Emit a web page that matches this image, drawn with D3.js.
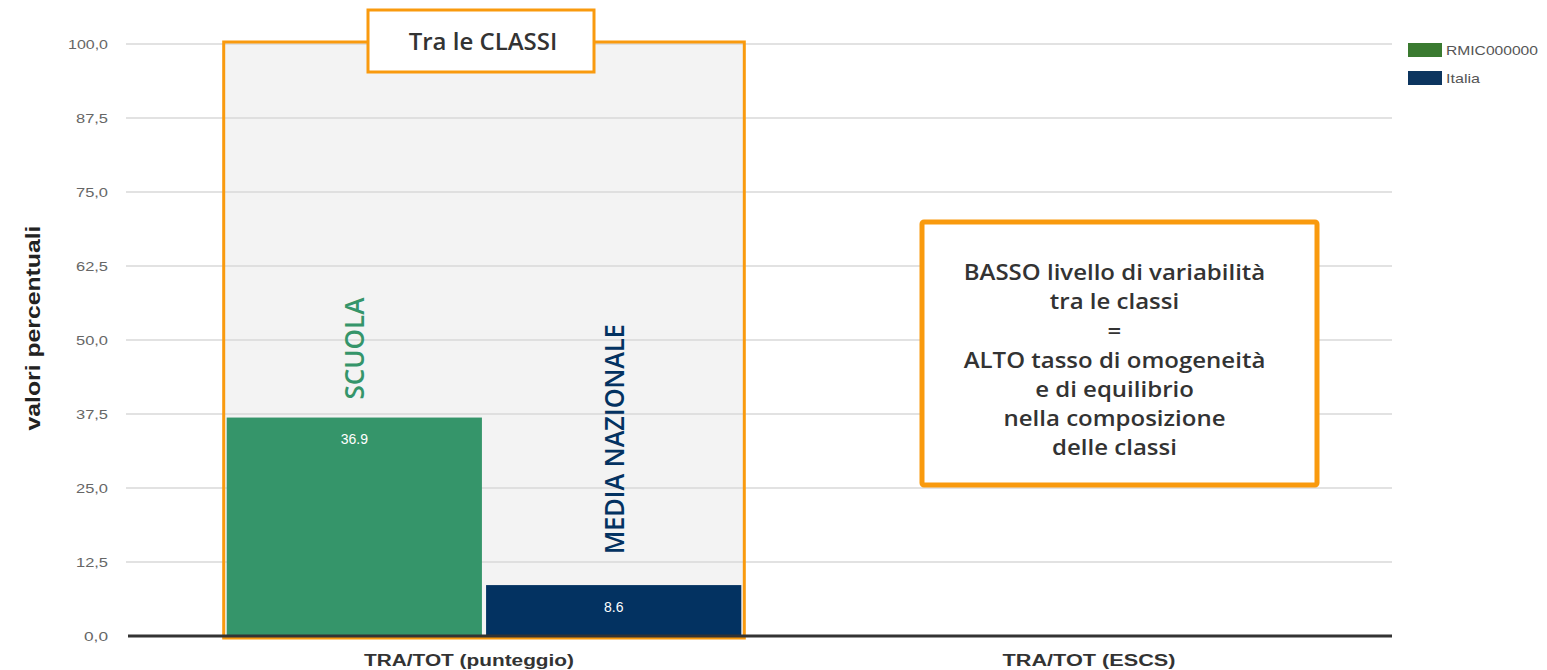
<!DOCTYPE html>
<html>
<head>
<meta charset="utf-8">
<script src="https://cdn.jsdelivr.net/npm/d3@7"></script>
<style>
  body { margin: 0; background: #fff; }
  svg { display: block; }
</style>
</head>
<body>
<svg id="chart"></svg>
<script>
// data
const categories = ['TRA/TOT (punteggio)', 'TRA/TOT (ESCS)']
const seriesNames = ['RMIC000000', 'Italia']
const scuolaValues = [36.9, null]
const italiaValues = [8.6, null]
const yTicks = [0, 12.5, 25, 37.5, 50, 62.5, 75, 87.5, 100]
const barTags = ['SCUOLA', 'MEDIA NAZIONALE']
const noteLines = [
  'BASSO livello di variabilità',
  'tra le classi',
  '=',
  'ALTO tasso di omogeneità',
  'e di equilibrio',
  'nella composizione',
  'delle classi'
]

const width = 1547
const height = 670
const ORANGE = '#f99a0e'
const GREEN = '#35956a'
const NAVY = '#033261'
const LEGEND_COLORS = ['#3a7a30', '#0c355f']

const svg = d3.select('#chart')
  .attr('width', width)
  .attr('height', height)

const plotLeft = 126, plotRight = 1392

const y = d3.scaleLinear().domain([0, 100]).range([636, 44])

const x0 = d3.scaleBand()
  .domain(categories)
  .range([174, 1414])
  .paddingInner(0.17)
  .paddingOuter(0.085)

const x1 = d3.scaleBand()
  .domain(seriesNames)
  .range([0, x0.bandwidth()])
  .paddingInner(0.016)

const rows = categories.map((c, i) => ({
  cat: c,
  values: [
    { name: seriesNames[0], v: scuolaValues[i], color: GREEN, tag: barTags[0] },
    { name: seriesNames[1], v: italiaValues[i], color: NAVY, tag: barTags[1] }
  ]
}))

// highlighted panel behind first group
const first = categories[0]
svg.append('rect')
  .attr('x', x0(first) - 3)
  .attr('y', y(100) - 2)
  .attr('width', x0.bandwidth() + 6)
  .attr('height', y(0) - y(100) + 4)
  .attr('fill', '#f3f3f3')

// grid
svg.append('g')
  .selectAll('line')
  .data(yTicks.filter(d => d > 0))
  .join('line')
    .attr('x1', plotLeft)
    .attr('x2', plotRight)
    .attr('y1', d => y(d))
    .attr('y2', d => y(d))
    .attr('stroke', '#d8d8d8')
    .attr('stroke-width', 1.5)

// y tick labels
const fmt = d => d3.format('.1f')(d).replace('.', ',')
svg.append('g')
  .selectAll('text')
  .data(yTicks)
  .join('text')
    .attr('x', 108)
    .attr('y', d => y(d))
    .attr('dy', '0.35em')
    .attr('text-anchor', 'end')
    .attr('font-family', 'Liberation Sans, Arial, sans-serif')
    .attr('font-size', 13)
    .attr('textLength', d => fmt(d).length * 8)
    .attr('lengthAdjust', 'spacingAndGlyphs')
    .attr('fill', '#666')
    .text(fmt)

// y axis title
svg.append('text')
  .attr('transform', `translate(40,${(y(0) + y(100)) / 2 - 12}) rotate(-90)`)
  .attr('text-anchor', 'middle')
  .attr('font-family', 'Liberation Sans, Arial, sans-serif')
  .attr('font-size', 21)
  .attr('font-weight', 'bold')
  .attr('textLength', 205)
  .attr('lengthAdjust', 'spacingAndGlyphs')
  .attr('fill', '#222')
  .text('valori percentuali')

// bars
const groups = svg.append('g')
  .selectAll('g')
  .data(rows)
  .join('g')
    .attr('transform', d => `translate(${x0(d.cat)},0)`)

groups.selectAll('rect')
  .data(d => d.values.filter(v => v.v != null))
  .join('rect')
    .attr('x', d => x1(d.name))
    .attr('y', d => y(d.v))
    .attr('width', x1.bandwidth())
    .attr('height', d => y(0) - y(d.v))
    .attr('fill', d => d.color)

groups.selectAll('text.val')
  .data(d => d.values.filter(v => v.v != null))
  .join('text')
    .attr('class', 'val')
    .attr('x', d => x1(d.name) + x1.bandwidth() / 2)
    .attr('y', d => y(d.v) + 22)
    .attr('dy', '0.35em')
    .attr('text-anchor', 'middle')
    .attr('font-family', 'Liberation Sans, Arial, sans-serif')
    .attr('font-size', 14)
    .attr('fill', '#fff')
    .text(d => d.v.toFixed(1))

// rotated tags above bars
groups.selectAll('text.tag')
  .data(d => d.values.filter(v => v.v != null))
  .join('text')
    .attr('class', 'tag')
    .attr('transform', (d, i) => {
      const cx = x1(d.name) + x1.bandwidth() / 2 + 10
      const by = y(d.v) - (i === 0 ? 18 : 31)
      return `translate(${cx},${by}) rotate(-90)`
    })
    .attr('font-family', 'Open Sans, Noto Sans, sans-serif')
    .attr('font-size', 27)
    .attr('font-weight', 600)
    .attr('fill', d => d.color)
    .attr('textLength', (d, i) => i === 0 ? 102 : 230)
    .attr('lengthAdjust', 'spacingAndGlyphs')
    .text(d => d.tag)

// orange frame
svg.append('rect')
  .attr('x', x0(first) - 3)
  .attr('y', y(100) - 2)
  .attr('width', x0.bandwidth() + 6)
  .attr('height', y(0) - y(100) + 4)
  .attr('fill', 'none')
  .attr('stroke', ORANGE)
  .attr('stroke-width', 3)

// baseline
svg.append('line')
  .attr('x1', plotLeft + 2)
  .attr('x2', plotRight)
  .attr('y1', y(0))
  .attr('y2', y(0))
  .attr('stroke', '#333')
  .attr('stroke-width', 3)

// x labels
const xLabelLen = [210, 173]
svg.append('g')
  .selectAll('text')
  .data(categories)
  .join('text')
    .attr('x', d => x0(d) + x0.bandwidth() / 2 - 15)
    .attr('y', 660)
    .attr('dy', '0.35em')
    .attr('text-anchor', 'middle')
    .attr('font-family', 'Liberation Sans, Arial, sans-serif')
    .attr('font-size', 16)
    .attr('font-weight', 'bold')
    .attr('textLength', (d, i) => xLabelLen[i])
    .attr('lengthAdjust', 'spacingAndGlyphs')
    .attr('fill', '#333')
    .text(d => d)

// title box
const tbW = 226, tbH = 62
const tbCx = x0(first) + x0.bandwidth() / 2 - 3
svg.append('rect')
  .attr('x', tbCx - tbW / 2)
  .attr('y', 10)
  .attr('width', tbW)
  .attr('height', tbH)
  .attr('fill', '#fff')
  .attr('stroke', ORANGE)
  .attr('stroke-width', 3)
svg.append('text')
  .attr('x', tbCx + 2)
  .attr('y', 42)
  .attr('dy', '0.35em')
  .attr('text-anchor', 'middle')
  .attr('font-family', 'Open Sans, Noto Sans, sans-serif')
  .attr('font-size', 24)
  .attr('font-weight', 600)
  .attr('fill', '#333')
  .text('Tra le CLASSI')

// note box over second category
const nb = { x: 922, y: 222, w: 395, h: 263 }
svg.append('rect')
  .attr('x', nb.x)
  .attr('y', nb.y)
  .attr('width', nb.w)
  .attr('height', nb.h)
  .attr('rx', 2)
  .attr('fill', '#fff')
  .attr('stroke', ORANGE)
  .attr('stroke-width', 5)
const noteText = svg.append('g')
  .selectAll('text')
  .data(noteLines)
  .join('text')
    .attr('x', nb.x + nb.w / 2 - 5)
    .attr('y', (d, i) => 273 + i * 29.1)
    .attr('dy', '0.35em')
    .attr('text-anchor', 'middle')
    .attr('font-family', 'Open Sans, Noto Sans, sans-serif')
    .attr('font-size', 24)
    .attr('font-weight', 600)
    .attr('fill', '#333')
    .text(d => d)
// keep the wide look but a line box that fits the tight leading
noteText.each(function () {
  const len = this.getComputedTextLength()
  d3.select(this)
    .attr('font-size', 21)
    .attr('textLength', len)
    .attr('lengthAdjust', 'spacingAndGlyphs')
})

// legend
const legend = svg.append('g')
  .selectAll('g')
  .data(seriesNames)
  .join('g')
    .attr('transform', (d, i) => `translate(1408,${43 + i * 28})`)
legend.append('rect')
  .attr('width', 34)
  .attr('height', 14)
  .attr('fill', (d, i) => LEGEND_COLORS[i])
legend.append('text')
  .attr('x', 38)
  .attr('y', 7)
  .attr('dy', '0.35em')
  .attr('font-family', 'Liberation Sans, Arial, sans-serif')
  .attr('font-size', 13)
  .attr('textLength', (d, i) => i === 0 ? 92 : 34)
  .attr('lengthAdjust', 'spacingAndGlyphs')
  .attr('fill', '#555')
  .text(d => d)
</script>
</body>
</html>
